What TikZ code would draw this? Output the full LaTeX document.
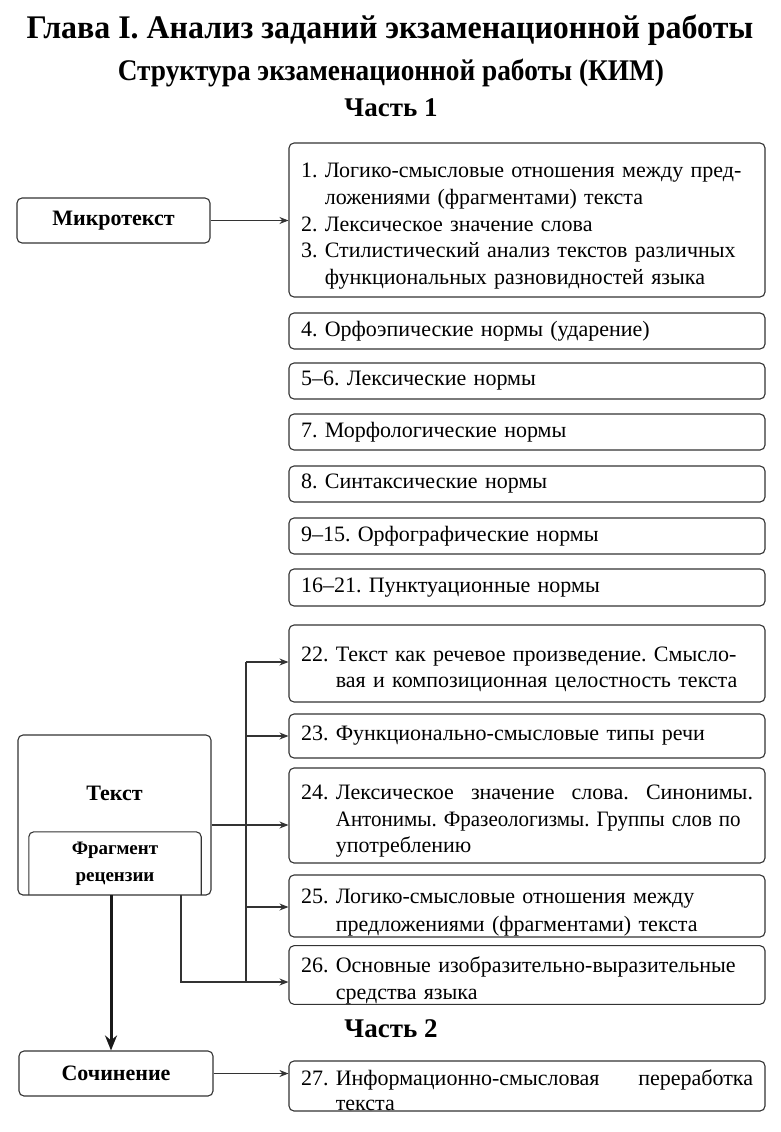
\documentclass[tikz,border=0pt]{standalone}
\usepackage{fontspec}
\setmainfont{Liberation Serif}
\newfontfamily\srf{Liberation Serif}[UprightFont=*, BoldFont=*/B]
\usetikzlibrary{arrows.meta,calc}
\newlength\itmw
\newcommand\itm[2]{\par\settowidth{\itmw}{#1\ }\hangindent=\itmw\hangafter=1\noindent#1\ #2\par}
\tikzset{
  rbox/.style={draw=black!80, line width=1.1pt, rounded corners=5pt, minimum width=476pt,
    inner sep=0pt, text width=452pt, align=left,
    font=\srf\frenchspacing\fontsize{22}{26.5}\selectfont},
  lbox/.style={draw=black!80, line width=1.1pt, rounded corners=5pt, inner sep=0pt,
    font=\srf\bfseries\fontsize{22}{26}\selectfont},
  ttl/.style={inner sep=0pt, font=\srf\bfseries\fontsize{#1}{#1}\selectfont},
  arr/.style={draw=black!80, line width=1.1pt, -{Stealth[length=9pt,width=7pt]}},
  ln/.style={draw=black!80, line width=1.1pt},
  thk/.style={draw=black!90, line width=3pt, -{Stealth[length=15pt,width=12pt]}}
}
\begin{document}
\begin{tikzpicture}[x=1pt,y=-1pt]
\useasboundingbox (0,0) rectangle (780,1132);
% titles
\node[ttl=33] (t1) at (390,30) {\scalebox{0.967}[1]{Глава I. Анализ заданий экзаменационной работы}};
\node[ttl=30] (t2) at (391,73) {\scalebox{0.91}[1]{Структура экзаменационной работы (КИМ)}};
\node[ttl=27] (p1) at (391,108) {Часть 1};
\node[ttl=27] (p2) at (391,1029) {Часть 2};
% right boxes
\node[rbox, minimum height=154pt] (b1) at (527,220) {%
\fontsize{22}{26.8}\selectfont
\itm{1.}{Логико-смысловые отношения между пред-\newline ложениями (фрагментами) текста}
\itm{2.}{Лексическое значение слова}
\itm{3.}{Стилистический анализ текстов различных\newline функциональных разновидностей языка}};
\node[rbox, minimum height=36pt] (b4) at (527,331) {4. Орфоэпические нормы (ударение)};
\node[rbox, minimum height=36pt] (b5) at (527,381) {5–6. Лексические нормы};
\node[rbox, minimum height=36pt] (b7) at (527,432) {7. Морфологические нормы};
\node[rbox, minimum height=36pt] (b8) at (527,484) {8. Синтаксические нормы};
\node[rbox, minimum height=36pt] (b9) at (527,536) {9–15. Орфографические нормы};
\node[rbox, minimum height=37pt] (b16) at (527,587.5) {16–21. Пунктуационные нормы};
\node[rbox, minimum height=77pt] (b22) at (527,663.5) {%
\itm{22.}{Текст как речевое произведение. Смысло-\newline вая и композиционная целостность текста}};
\node[rbox, minimum height=44pt] (b23) at (527,736) {23. Функционально-смысловые типы речи};
\node[rbox, minimum height=95pt] (b24) at (527,815.5) {%
\fontsize{22}{26.5}\selectfont
\itm{24.}{Лексическое\hfill значение\hfill слова.\hfill Синонимы.\newline \scalebox{0.955}[1]{Антонимы. Фразеологизмы. Группы слов по}\newline употреблению}};
\node[rbox, minimum height=62pt] (b25) at (527,906) {%
\fontsize{22}{27.5}\selectfont
\itm{25.}{Логико-смысловые отношения между\newline предложениями (фрагментами) текста}};
\node[rbox, minimum height=58pt] (b26) at (527,975) {%
\fontsize{22}{27}\selectfont
\itm{26.}{Основные изобразительно-выразительные\newline средства языка}};
\node[rbox, minimum height=50pt] (b27) at (527,1086) {%
\fontsize{22}{24.5}\selectfont
\itm{27.}{Информационно-смысловая\hfill переработка\newline текста}};
% left boxes
\node[lbox, minimum width=193pt, minimum height=45pt] (mikro) at (113.5,220.5) {Микротекст};
\node[lbox, minimum width=193pt, minimum height=160pt] (tekst) at (114.5,815) {};
\node[inner sep=0pt, font=\srf\bfseries\fontsize{22}{26}\selectfont] (tlab) at (114.5,793) {Текст};
\node[inner sep=0pt, minimum width=172pt, minimum height=63pt, align=center,
  font=\srf\bfseries\fontsize{19}{27}\selectfont] (frag) at (115,863.5) {Фрагмент\\рецензии};
\draw[ln, rounded corners=5pt] (frag.south west) -- (frag.north west) -- (frag.north east) -- (frag.south east);
\node[lbox, minimum width=194pt, minimum height=45pt] (soch) at (116,1073.5) {Сочинение};
% connectors
\draw[arr] (mikro.east) -- (mikro.east -| b1.west);
\coordinate (bus22) at (246,662);
\coordinate (bus23) at (246,736);
\coordinate (bus24) at (246,825);
\coordinate (bus25) at (246,907);
\coordinate (bus26) at (246,982);
\coordinate (tout) at (tekst.east |- bus24);
\coordinate (fdown) at (181,895);
\coordinate (sdown) at (111,895);
\draw[ln] (bus22) -- (bus26);
\draw[arr] (bus22) -- (bus22 -| b22.west);
\draw[arr] (bus23) -- (bus23 -| b23.west);
\draw[arr] (tout) -- (bus24 -| b24.west);
\draw[arr] (bus25) -- (bus25 -| b25.west);
\draw[arr] (fdown) |- (bus26 -| b26.west);
\draw[thk] (sdown) -- (sdown |- soch.north);
\draw[arr] (soch.east) -- (soch.east -| b27.west);
\end{tikzpicture}
\end{document}
